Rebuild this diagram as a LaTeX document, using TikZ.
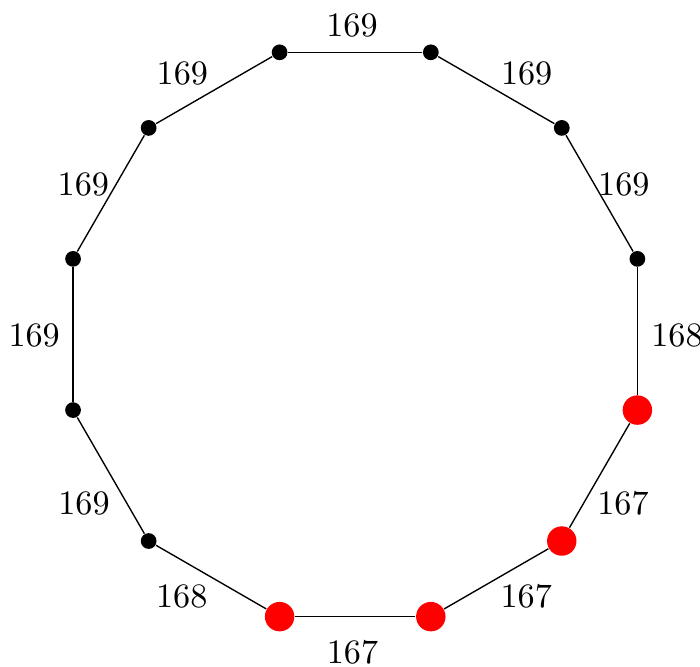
\documentclass[tikz,border=0pt]{standalone}
\usepackage{tikz}

\begin{document}
\begin{tikzpicture}[x=1cm,y=1cm,
  vtx/.style={circle,fill=black,inner sep=0pt,minimum size=4.6pt},
  cut/.style={circle,fill=red,inner sep=0pt,minimum size=8.6pt},
  len/.style={inner sep=0pt}]
\useasboundingbox (-3.648,-3.405) rectangle (3.541,3.435);
% vertices of the ring
\node[vtx] (p75) at (75:3) {};
\node[vtx] (p45) at (45:3) {};
\node[vtx] (p15) at (15:3) {};
\node[cut] (p345) at (345:3) {};
\node[cut] (p315) at (315:3) {};
\node[cut] (p285) at (285:3) {};
\node[cut] (p255) at (255:3) {};
\node[vtx] (p225) at (225:3) {};
\node[vtx] (p195) at (195:3) {};
\node[vtx] (p165) at (165:3) {};
\node[vtx] (p135) at (135:3) {};
\node[vtx] (p105) at (105:3) {};
% sides
\draw (p105) -- (p75);
\draw (p75) -- (p45);
\draw (p45) -- (p15);
\draw (p15) -- (p345);
\draw (p345) -- (p315);
\draw (p315) -- (p285);
\draw (p285) -- (p255);
\draw (p255) -- (p225);
\draw (p225) -- (p195);
\draw (p195) -- (p165);
\draw (p165) -- (p135);
\draw (p135) -- (p105);
% side lengths
\node[len] (l90) at (-0.033,3.176) {169};
\node[len] (l60) at (1.761,2.677) {169};
\node[len] (l30) at (2.759,1.538) {169};
\node[len] (l0) at (3.305,-0.01) {168};
\node[len] (l330) at (2.750,-1.734) {167};
\node[len] (l300) at (1.757,-2.688) {167};
\node[len] (l270) at (-0.028,-3.268) {167};
\node[len] (l240) at (-1.782,-2.686) {168};
\node[len] (l210) at (-2.785,-1.734) {169};
\node[len] (l180) at (-3.297,-0.015) {169};
\node[len] (l150) at (-2.792,1.538) {169};
\node[len] (l120) at (-1.775,2.677) {169};
\end{tikzpicture}
\end{document}
